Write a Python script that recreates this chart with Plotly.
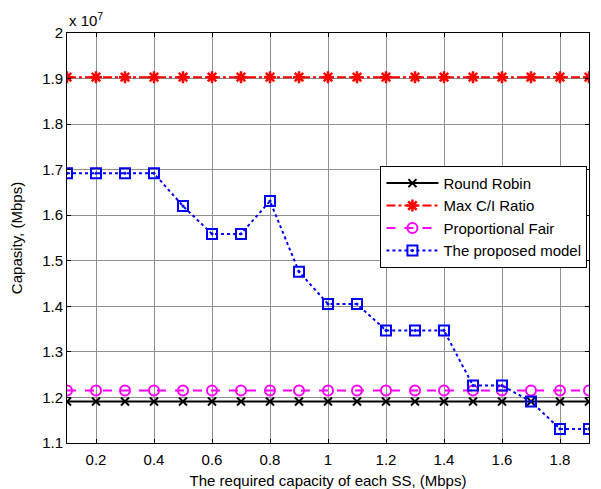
import plotly.graph_objects as go

# Required capacity of each SS (Mbps)
required_capacity = [0.1, 0.2, 0.3, 0.4, 0.5, 0.6, 0.7, 0.8, 0.9, 1.0,
                     1.1, 1.2, 1.3, 1.4, 1.5, 1.6, 1.7, 1.8, 1.9]

# System capacity, in units of 10^7 Mbps
round_robin = [1.191] * 19
max_ci_ratio = [1.903] * 19
proportional_fair = [1.215] * 19
proposed_model = [1.692, 1.692, 1.692, 1.692, 1.620, 1.559, 1.559, 1.631, 1.476, 1.405,
                  1.405, 1.347, 1.347, 1.347, 1.226, 1.226, 1.191, 1.131, 1.131]

FONT = "Liberation Sans, Arial, sans-serif"

fig = go.Figure()
fig.add_trace(go.Scatter(
    x=required_capacity, y=round_robin, name="Round Robin", mode="lines+markers",
    line=dict(color="black", width=2, dash="solid"),
    marker=dict(symbol="x-thin-open", size=8, color="black", line=dict(width=2, color="black"))))
fig.add_trace(go.Scatter(
    x=required_capacity, y=max_ci_ratio, name="Max C/I Ratio", mode="lines+markers",
    line=dict(color="red", width=2, dash="dashdot"),
    marker=dict(symbol="asterisk-open", size=10, color="red", line=dict(width=2.5, color="red"))))
fig.add_trace(go.Scatter(
    x=required_capacity, y=proportional_fair, name="Proportional Fair", mode="lines+markers",
    line=dict(color="magenta", width=2, dash="dash"),
    marker=dict(symbol="circle-open", size=10, color="magenta", line=dict(width=2, color="magenta"))))
fig.add_trace(go.Scatter(
    x=required_capacity, y=proposed_model, name="The proposed model", mode="lines+markers",
    line=dict(color="blue", width=2, dash="dot"),
    marker=dict(symbol="square-open-dot", size=10, color="blue", line=dict(width=2, color="blue"))))

axis_common = dict(
    showline=True, linecolor="black", linewidth=1, mirror="ticks",
    ticks="inside", ticklen=4, tickcolor="black",
    showgrid=True, gridcolor="#8f8f8f", gridwidth=1, zeroline=False,
    tickfont=dict(family=FONT, size=15, color="black"),
    automargin=False,
)

fig.update_xaxes(
    range=[0.1, 1.9], tick0=0, dtick=0.2, ticklabelstandoff=3,
    title=dict(text="The required capacity of each SS, (Mbps)",
               font=dict(family=FONT, size=15, color="black")),
    **axis_common)
fig.update_yaxes(
    range=[1.1, 2.0], tick0=1.1, dtick=0.1,
    title=dict(text="Capasity, (Mbps)",
               font=dict(family=FONT, size=15, color="black")),
    **axis_common)

fig.add_annotation(
    x=0, y=1, xref="paper", yref="paper", xanchor="left", yanchor="bottom",
    text="x 10<sup>7</sup>", showarrow=False, yshift=2,
    font=dict(family=FONT, size=15, color="black"))

fig.update_layout(
    width=601, height=489,
    margin=dict(l=67, r=12, t=33, b=46),
    paper_bgcolor="white", plot_bgcolor="white",
    font=dict(family=FONT, size=15, color="black"),
    legend=dict(
        x=0.997, y=0.676, xanchor="right", yanchor="top",
        bgcolor="white", bordercolor="black", borderwidth=1,
        font=dict(family=FONT, size=15, color="black"),
        itemwidth=52, tracegroupgap=0,
    ),
)

fig.write_html("out.html")
